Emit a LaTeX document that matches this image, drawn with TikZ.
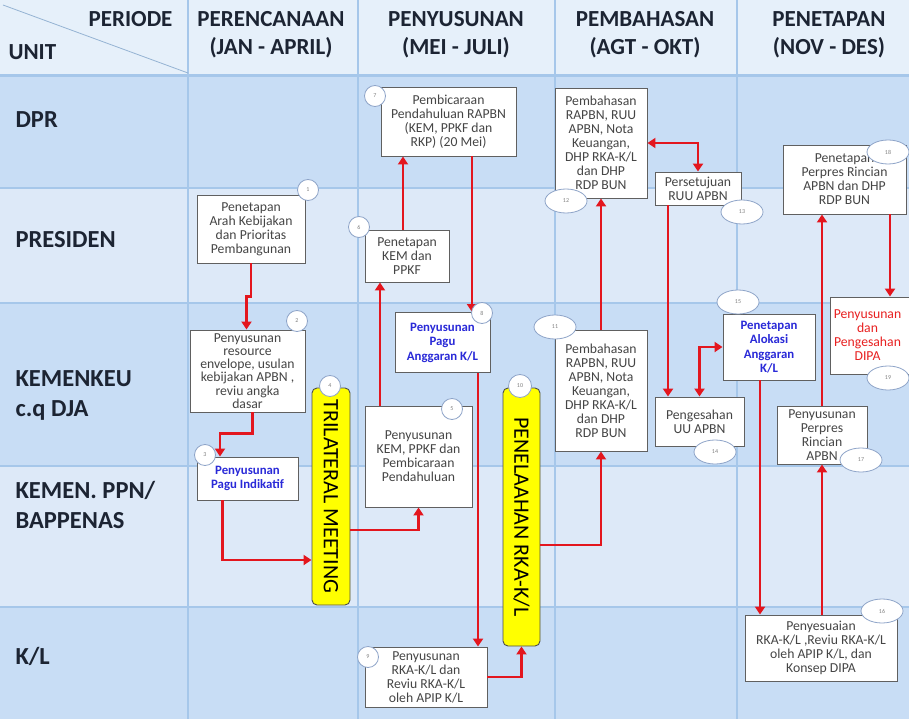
\documentclass[tikz,border=0pt]{standalone}
\usepackage{fontspec}
\setmainfont{Carlito}
\usetikzlibrary{arrows.meta,shapes.geometric}
\definecolor{hdr}{HTML}{E6F0FA}
\definecolor{rowA}{HTML}{C8DDF5}
\definecolor{rowB}{HTML}{DDE9F8}
\definecolor{gridc}{HTML}{A6C7EA}
\definecolor{arr}{HTML}{E3161E}
\definecolor{txt}{HTML}{454545}
\definecolor{bluetxt}{HTML}{2A2AD8}
\definecolor{redtxt}{HTML}{E82020}
\definecolor{yel}{HTML}{FFFF00}
\definecolor{headtxt}{HTML}{1C2433}
\definecolor{badgec}{HTML}{8EA4C8}
\begin{document}
\begin{tikzpicture}[x=1pt,y=-1pt,
  box/.style={draw=gray!75!black, fill=white, line width=0.9pt, align=center,
    font=\fontsize{13.7}{14}\selectfont, text=txt, inner sep=1pt},
  bluebox/.style={box, font=\fontsize{12.8}{14.5}\selectfont\bfseries, text=bluetxt},
  yelbox/.style={draw=black!70, fill=yel, rounded corners=5pt, line width=0.9pt},
  yeltext/.style={rotate=-90, font=\fontsize{22}{24}\selectfont, text=black},
  badge/.style={circle, draw=badgec, fill=white, line width=0.8pt, minimum size=21pt,
    inner sep=0pt, font=\fontsize{6}{6}\selectfont, text=gray},
  ebadge/.style={ellipse, draw=badgec, fill=white, line width=0.8pt, minimum width=42pt,
    minimum height=24pt, inner sep=0pt, font=\fontsize{6}{6}\selectfont, text=gray},
  arw/.style={draw=arr, line width=2.5pt, -{Triangle[length=8pt,width=10pt]}},
  arw2/.style={draw=arr, line width=2.5pt, {Triangle[length=8pt,width=10pt]}-{Triangle[length=8pt,width=10pt]}},
  headfont/.style={font=\fontsize{23}{28}\selectfont\bfseries, text=headtxt, align=center},
  rowfont/.style={font=\fontsize{24.5}{30}\selectfont\bfseries, text=headtxt, align=left, anchor=west},
  gridline/.style={draw=gridc, line width=1.3pt}
]
\useasboundingbox (0,0) rectangle (909,719);
\clip (0,0) rectangle (909,719);
% backgrounds
\fill[hdr] (0,0) rectangle (909,75);
\fill[rowA] (0,75) rectangle (909,188);
\fill[rowB] (0,188) rectangle (909,303);
\fill[rowA] (0,303) rectangle (909,466);
\fill[rowB] (0,466) rectangle (909,607);
\fill[rowA] (0,607) rectangle (909,719);
% grid
\foreach \xx in {188,358,555,737} \draw[gridline] (\xx,0) -- (\xx,719);
\foreach \yy in {188,303,466,607} \draw[gridline] (0,\yy) -- (909,\yy);
\draw[draw=gridc, line width=3pt] (0,76) -- (909,76);
\draw[draw=gridc!90!black, line width=0.8pt] (3,5) -- (188,73);
% header
\node[headfont, anchor=east] (hper) at (176,19) {PERIODE};
\node[headfont, anchor=west] (hunit) at (5,52) {UNIT};
\node[headfont] (h1) at (271,35) {PERENCANAAN\\(JAN - APRIL)};
\node[headfont] (h2) at (456,35) {PENYUSUNAN\\(MEI - JULI)};
\node[headfont] (h3) at (645,35) {PEMBAHASAN\\(AGT - OKT)};
\node[headfont] (h4) at (829,35) {PENETAPAN\\(NOV - DES)};
% row labels
\node[rowfont] (rdpr) at (12,120) {DPR};
\node[rowfont] (rpres) at (12,240) {PRESIDEN};
\node[rowfont] (rkeu) at (12,395) {KEMENKEU\\c.q DJA};
\node[rowfont] (rppn) at (12,505) {KEMEN. PPN/\\BAPPENAS};
\node[rowfont] (rkl) at (12,656) {K/L};
% boxes
\node[box, minimum width=108pt, minimum height=68pt] (b1) at (251,229) {Penetapan\\Arah Kebijakan\\dan Prioritas\\Pembangunan};
\node[box, minimum width=115pt, minimum height=82pt, font=\fontsize{13.7}{13.2}\selectfont] (b2) at (247.5,371) {Penyusunan\\resource\\envelope, usulan\\kebijakan APBN ,\\reviu angka\\dasar};
\node[bluebox, minimum width=101pt, minimum height=43pt] (b3) at (247.5,478.5) {Penyusunan\\Pagu Indikatif};
\node[yelbox, minimum width=38pt, minimum height=217pt] (y4) at (331,496.5) {};
\node[yeltext] at (y4.center) {TRILATERAL MEETING};
\node[box, minimum width=107pt, minimum height=101pt] (b5) at (418.5,456.5) {Penyusunan\\KEM, PPKF dan\\Pembicaraan\\Pendahuluan};
\node[box, minimum width=84pt, minimum height=52pt] (b6) at (407,256) {Penetapan\\KEM dan\\PPKF};
\node[box, minimum width=135pt, minimum height=69pt] (b7) at (448.5,121.5) {Pembicaraan\\Pendahuluan RAPBN\\(KEM, PPKF dan\\RKP) (20 Mei)};
\node[bluebox, minimum width=95pt, minimum height=60pt] (b8) at (442.5,342.5) {Penyusunan\\Pagu\\Anggaran K/L};
\node[box, minimum width=122pt, minimum height=60pt] (b9) at (426,677) {Penyusunan\\RKA-K/L dan\\Reviu RKA-K/L\\oleh APIP K/L};
\node[yelbox, minimum width=37pt, minimum height=258pt] (y10) at (521.5,517) {};
\node[yeltext] at (y10.center) {PENELAAHAN RKA-K/L};
\node[box, minimum width=92pt, minimum height=121pt] (b11) at (601,390.5) {Pembahasan\\RAPBN, RUU\\APBN, Nota\\Keuangan,\\DHP RKA-K/L\\dan DHP\\RDP BUN};
\node[box, minimum width=92pt, minimum height=110pt] (b12) at (601,143) {Pembahasan\\RAPBN, RUU\\APBN, Nota\\Keuangan,\\DHP RKA-K/L\\dan DHP\\RDP BUN};
\node[box, minimum width=86pt, minimum height=33pt] (b13) at (698,188.5) {Persetujuan\\RUU APBN};
\node[box, minimum width=89pt, minimum height=49pt] (b14) at (699.5,421.5) {Pengesahan\\UU APBN};
\node[bluebox, minimum width=92pt, minimum height=66pt] (b15) at (769,347) {Penetapan\\Alokasi\\Anggaran\\K/L};
\node[box, minimum width=152pt, minimum height=66pt] (b16) at (821,648) {Penyesuaian\\RKA-K/L ,Reviu RKA-K/L\\oleh APIP K/L, dan\\Konsep DIPA};
\node[box, minimum width=90pt, minimum height=58pt] (b17) at (822,435) {Penyusunan\\Perpres\\Rincian\\APBN};
\node[box, minimum width=123pt, minimum height=69pt] (b18) at (844.5,179.5) {Penetapan\\Perpres Rincian\\APBN dan DHP\\RDP BUN};
\node[box, minimum width=85pt, minimum height=77pt, text=redtxt, align=center, text width=80pt] (b19) at (872.5,335.5) {\hspace*{-10pt}Penyusunan\\\hspace*{-10pt}dan\\\hspace*{-10pt}Pengesahan\\\hspace*{-10pt}DIPA};
% arrows
\draw[arw] (b1.south) -- ++(0,33) -| ([xshift=-1pt]b2.north);
\draw[arw] ([xshift=5pt]b2.south) -- ++(0,21) -| ([xshift=-27.5pt]b3.north);
\draw[arw] ([xshift=-25pt]b3.south) |- ([yshift=-63.5pt]y4.west);
\draw[arw] ([yshift=-33.5pt]y4.east) -| (b5.south);
\draw[arw] ([xshift=-38.5pt]b5.north) -- ([xshift=-27pt]b6.south);
\draw[arw] ([xshift=-4pt]b6.north) -- ([xshift=-45.5pt]b7.south);
\draw[arw] ([xshift=23.5pt]b7.south) -- ([xshift=29.5pt]b8.north);
\draw[arw] ([xshift=35.5pt]b8.south) -- ([xshift=52pt]b9.north);
\draw[arw] (b9.east) -| (y10.south);
\draw[arw] ([yshift=-28pt]y10.east) -| (b11.south);
\draw[arw] (b11.north) -- (b12.south);
\draw[arw2] (b12.east) -| (b13.north);
\draw[arw] ([xshift=-30pt]b13.south) -- ([xshift=-31.5pt]b14.north);
\draw[arw2] (b14.north) |- (b15.west);
\draw[arw] ([xshift=-9pt]b15.south) -- ([xshift=-61pt]b16.north);
\draw[arw] ([xshift=1pt]b16.north) -- (b17.south);
\draw[arw] (b17.north) -- ([xshift=-22.5pt]b18.south);
\draw[arw] ([xshift=45.5pt]b18.south) -- ([xshift=17.5pt]b19.north);
% badges
\node[badge] (c1) at (308,190) {1};
\node[badge] (c2) at (297,321) {2};
\node[badge] (c3) at (205,455) {3};
\node[badge] (c4) at (330,386) {4};
\node[badge] (c5) at (452,409) {5};
\node[badge] (c6) at (359,227) {6};
\node[badge] (c7) at (375,96) {7};
\node[badge] (c8) at (482,313) {8};
\node[badge] (c9) at (368,657) {9};
\node[badge, minimum size=23pt] (c10) at (520,386) {10};
\node[ebadge] (e11) at (555,327) {11};
\node[ebadge] (e12) at (566,201) {12};
\node[ebadge] (e13) at (742,212) {13};
\node[ebadge] (e14) at (715,452) {14};
\node[ebadge] (e15) at (738,302) {15};
\node[ebadge] (e16) at (882,611) {16};
\node[ebadge] (e17) at (861,460) {17};
\node[ebadge] (e18) at (888,152) {18};
\node[ebadge] (e19) at (888,378) {19};
\end{tikzpicture}
\end{document}
